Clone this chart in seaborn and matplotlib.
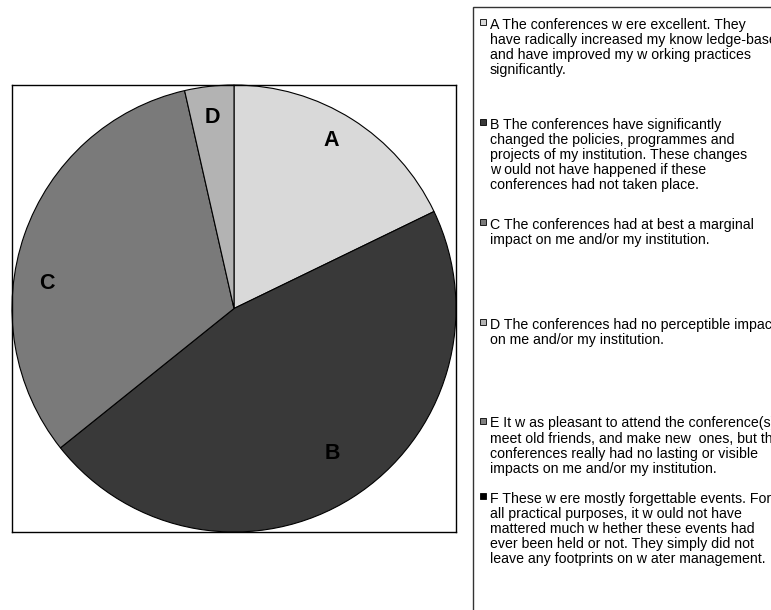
import matplotlib
matplotlib.use("Agg")
import numpy as np
import matplotlib.pyplot as plt
from matplotlib.patches import Rectangle
import seaborn as sns

# Survey: impact of the conferences (number of respondents per answer)
categories = ["A", "B", "C", "D", "E", "F"]
responses = [5, 13, 9, 1, 0, 0]
colors = ["#D9D9D9", "#393939", "#7A7A7A", "#B3B3B3", "#808080", "#000000"]
descriptions = [
    "A The conferences w ere excellent. They\n"
    "have radically increased my know ledge-based\n"
    "and have improved my w orking practices\n"
    "significantly.",
    "B The conferences have significantly\n"
    "changed the policies, programmes and\n"
    "projects of my institution. These changes\n"
    "w ould not have happened if these\n"
    "conferences had not taken place.",
    "C The conferences had at best a marginal\n"
    "impact on me and/or my institution.",
    "D The conferences had no perceptible impact\n"
    "on me and/or my institution.",
    "E It w as pleasant to attend the conference(s),\n"
    "meet old friends, and make new  ones, but the\n"
    "conferences really had no lasting or visible\n"
    "impacts on me and/or my institution.",
    "F These w ere mostly forgettable events. For\n"
    "all practical purposes, it w ould not have\n"
    "mattered much w hether these events had\n"
    "ever been held or not. They simply did not\n"
    "leave any footprints on w ater management.",
]

# Slice label placement (angle in degrees, fraction of radius)
label_polar = {"A": (59.8, 0.87), "B": (-55.5, 0.785), "C": (172.4, 0.85), "D": (96.6, 0.86)}
# Legend entry rows: pixel y of the first text line of each entry
entry_rows = [23, 123, 223, 323, 422, 497]

sns.set_theme(style="white")
plt.rcParams["font.family"] = ["Liberation Sans", "DejaVu Sans"]

W, H = 771, 610
fig = plt.figure(figsize=(W / 100, H / 100), dpi=100)
fig.patch.set_facecolor("white")


def fx(px):
    return px / W


def fy(py):
    return 1 - py / H


ax = fig.add_axes([fx(12), fy(532), 444 / W, 447 / H])
shown = [(c, v, col) for c, v, col in zip(categories, responses, colors) if v > 0]
ax.pie(
    [v for _, v, _ in shown],
    colors=[col for _, _, col in shown],
    startangle=90,
    counterclock=False,
    frame=True,
    wedgeprops=dict(edgecolor="black", linewidth=0.8),
)
ax.set_aspect("auto")
ax.set_xlim(-1.0, 1.0)
ax.set_ylim(-1.0, 1.0)
ax.set_xticks([])
ax.set_yticks([])
for sp in ax.spines.values():
    sp.set_visible(True)
    sp.set_color("black")
    sp.set_linewidth(1.0)

for cat, _, _ in shown:
    ang, r = label_polar[cat]
    ax.text(r * np.cos(np.radians(ang)), r * np.sin(np.radians(ang)), cat,
            ha="center", va="center", fontsize=15.5, fontweight="bold", color="black")

# Legend panel (runs off the right and bottom of the figure)
fig.add_artist(Rectangle((fx(473), -0.2), 1.0, fy(7) + 0.2, transform=fig.transFigure,
                         fill=False, edgecolor="#333333", linewidth=1.0, clip_on=False))
for desc, col, row in zip(descriptions, colors, entry_rows):
    fig.add_artist(Rectangle((fx(480), fy(row + 1.5)), 6 / W, 6 / H, transform=fig.transFigure,
                             facecolor=col, edgecolor="black", linewidth=0.6))
    fig.text(fx(490), fy(row - 5.5), desc, ha="left", va="top", fontsize=10.2,
             color="black", linespacing=1.11)

fig.savefig("out.png", dpi=100, facecolor="white")
